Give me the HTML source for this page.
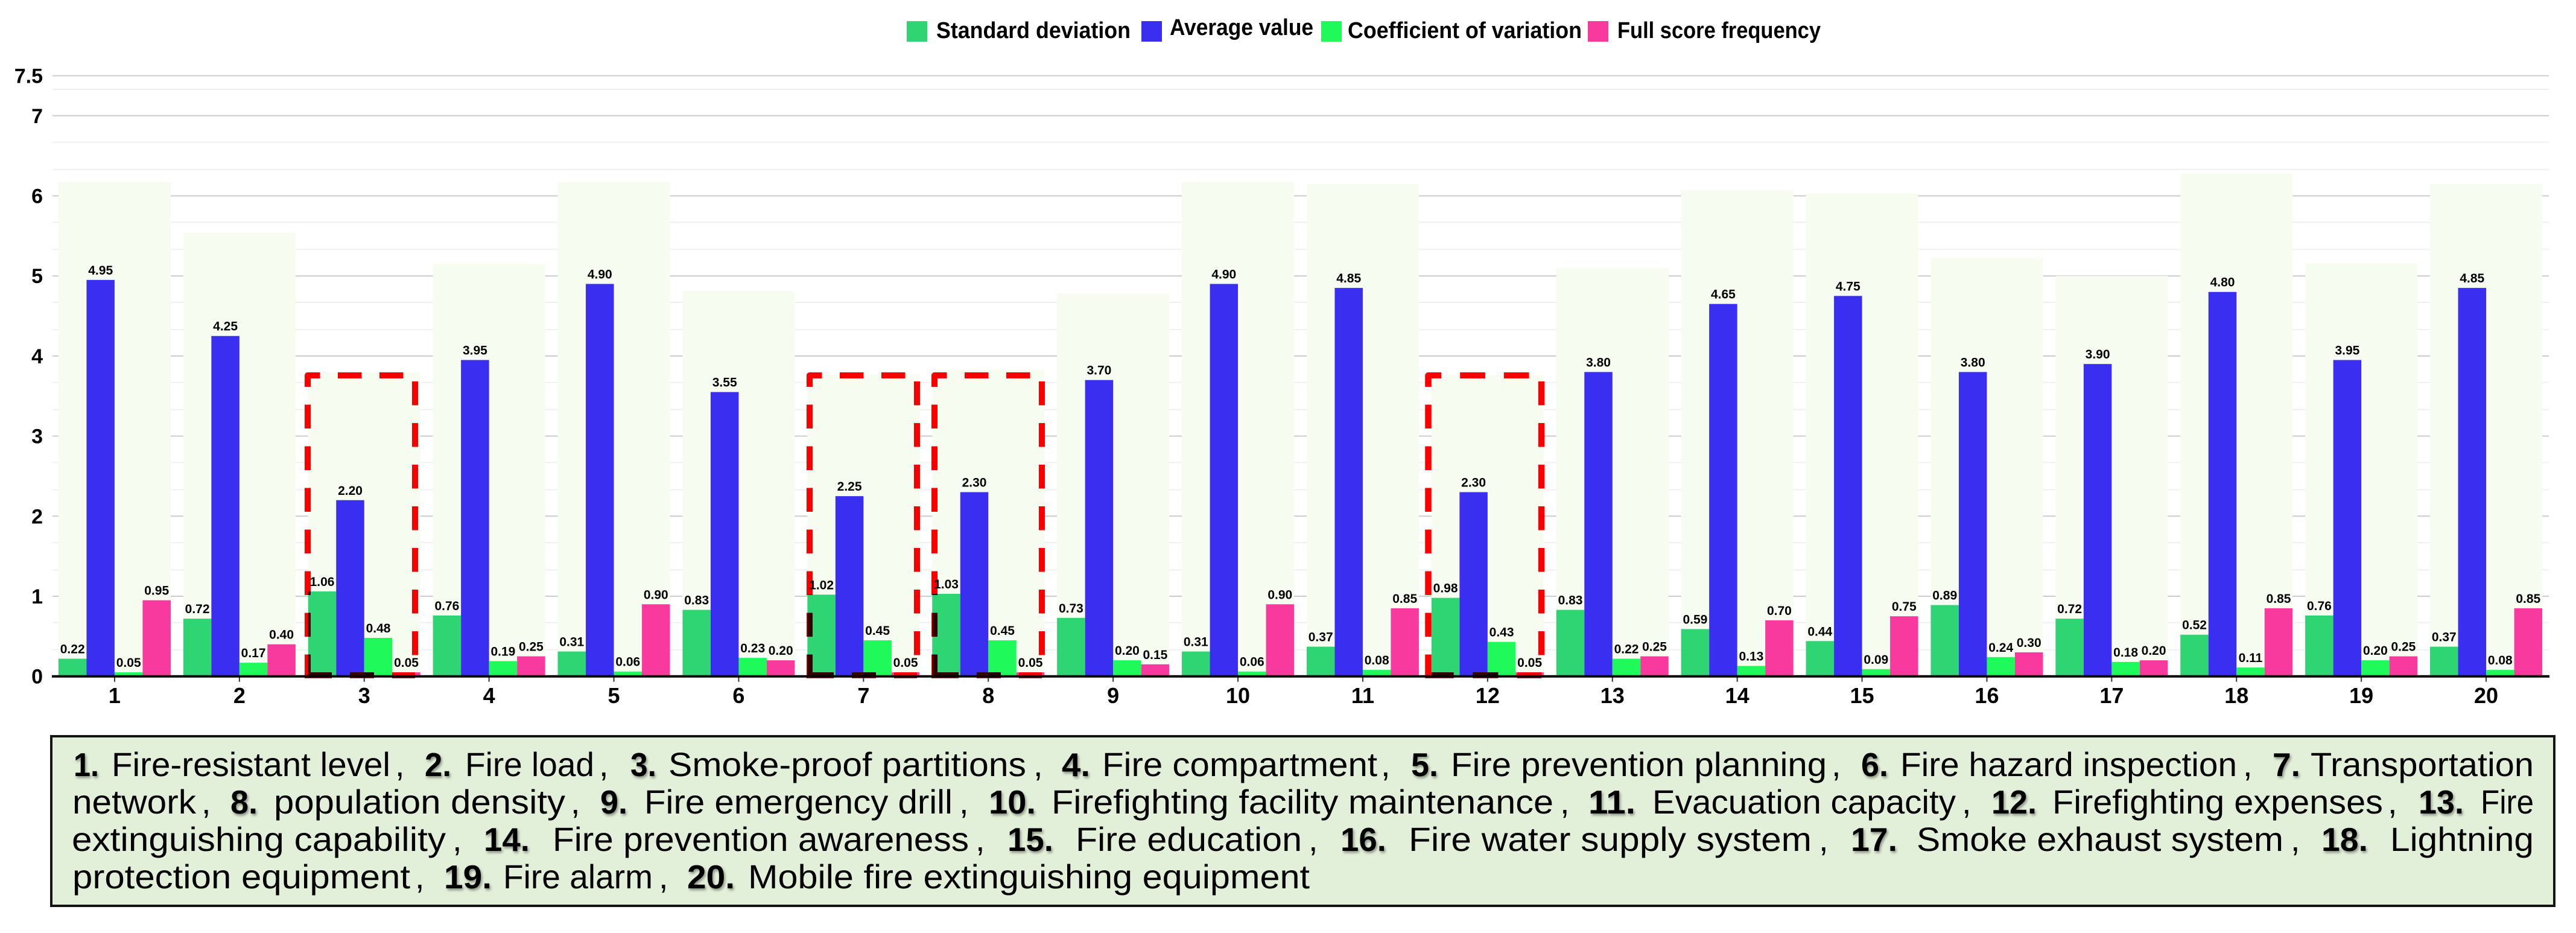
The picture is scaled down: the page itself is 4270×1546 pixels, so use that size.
<!DOCTYPE html>
<html lang="en">
<head>
<meta charset="utf-8">
<title>Fire safety factor statistics</title>
<style>
  html, body { margin: 0; padding: 0; background: #fff; }
  body { width: 4270px; height: 1546px; overflow: hidden; }
  svg { display: block; font-family: "Liberation Sans", "Noto Sans CJK SC", sans-serif; isolation: isolate; }
  .legend-text { font-size: 38px; font-weight: 700; fill: #000; }
  .num { font-size: 55px; font-weight: 700; fill: #000; filter: url(#num-shadow); }
  .lab { font-size: 56px; fill: #000; }
  .sep { font-size: 56px; fill: #000; }
  .hl { mix-blend-mode: multiply; fill: none; stroke: #ff0000; stroke-width: 10; stroke-linejoin: round; }
</style>
</head>
<body>
<svg id="chart" width="4270" height="1546" viewBox="0 0 4270 1546" xmlns="http://www.w3.org/2000/svg">
  <defs>
    <filter id="num-shadow" x="-20%" y="-20%" width="150%" height="150%">
      <feDropShadow dx="2" dy="3" stdDeviation="2" flood-color="#000" flood-opacity="0.4"/>
    </filter>
  </defs>

  <g id="grid"></g>
  <g id="marks"></g>

  <g id="highlights">
    <g class="hl" transform="translate(510,0)">
      <path d="M0,1124 V622 H178 V1114" stroke-dasharray="39.5 29.5"/>
      <path d="M0,1119 H178" stroke-dasharray="40 30"/>
    </g>
    <g class="hl" transform="translate(1342,0)">
      <path d="M0,1124 V622 H178 V1114" stroke-dasharray="39.5 29.5"/>
      <path d="M0,1119 H178" stroke-dasharray="40 30"/>
    </g>
    <g class="hl" transform="translate(1549,0)">
      <path d="M0,1124 V622 H178 V1114" stroke-dasharray="39.5 29.5"/>
      <path d="M0,1119 H178" stroke-dasharray="40 30"/>
    </g>
    <g class="hl" transform="translate(2367.5,0) scale(1.054,1)">
      <path d="M0,1124 V622 H178 V1114" stroke-dasharray="39.5 29.5"/>
      <path d="M0,1119 H178" stroke-dasharray="40 30"/>
    </g>
  </g>

  <g id="labels"></g>
  <g id="axes"></g>

  <g>
    <g>
      <rect x="1503" y="35" width="34" height="34" fill="#2fd473"/>
      <text class="legend-text" x="1552" y="63" textLength="322" lengthAdjust="spacingAndGlyphs">Standard deviation</text>
    </g>
    <g>
      <rect x="1892" y="35" width="34" height="34" fill="#3a2ff0"/>
      <text class="legend-text" x="1939" y="58" textLength="238" lengthAdjust="spacingAndGlyphs">Average value</text>
    </g>
    <g>
      <rect x="2190" y="35" width="34" height="34" fill="#1ffa5a"/>
      <text class="legend-text" x="2234" y="63" textLength="388" lengthAdjust="spacingAndGlyphs">Coefficient of variation</text>
    </g>
    <g>
      <rect x="2632" y="35" width="34" height="34" fill="#f83a9e"/>
      <text class="legend-text" x="2681" y="63" textLength="337" lengthAdjust="spacingAndGlyphs">Full score frequency</text>
    </g>
  </g>

  <g>
    <rect x="85" y="1220" width="4149" height="281" fill="#e3f0d9" stroke="#141414" stroke-width="4"/>

    <text class="num" x="122" y="1286" textLength="42" lengthAdjust="spacingAndGlyphs">1.</text>
    <text class="lab" x="185" y="1286" textLength="462" lengthAdjust="spacingAndGlyphs">Fire-resistant level</text>
    <text class="sep" x="655" y="1286">,</text>
    <text class="num" x="704" y="1286" textLength="44" lengthAdjust="spacingAndGlyphs">2.</text>
    <text class="lab" x="771" y="1286" textLength="214" lengthAdjust="spacingAndGlyphs">Fire load</text>
    <text class="sep" x="993" y="1286">,</text>
    <text class="num" x="1045" y="1286" textLength="43" lengthAdjust="spacingAndGlyphs">3.</text>
    <text class="lab" x="1108" y="1286" textLength="593" lengthAdjust="spacingAndGlyphs">Smoke-proof partitions</text>
    <text class="sep" x="1713" y="1286">,</text>
    <text class="num" x="1760" y="1286" textLength="47" lengthAdjust="spacingAndGlyphs">4.</text>
    <text class="lab" x="1827" y="1286" textLength="456" lengthAdjust="spacingAndGlyphs">Fire compartment</text>
    <text class="sep" x="2289" y="1286">,</text>
    <text class="num" x="2339" y="1286" textLength="45" lengthAdjust="spacingAndGlyphs">5.</text>
    <text class="lab" x="2405" y="1286" textLength="623" lengthAdjust="spacingAndGlyphs">Fire prevention planning</text>
    <text class="sep" x="3036" y="1286">,</text>
    <text class="num" x="3085" y="1286" textLength="45" lengthAdjust="spacingAndGlyphs">6.</text>
    <text class="lab" x="3150" y="1286" textLength="558" lengthAdjust="spacingAndGlyphs">Fire hazard inspection</text>
    <text class="sep" x="3718" y="1286">,</text>
    <text class="num" x="3767" y="1286" textLength="46" lengthAdjust="spacingAndGlyphs">7.</text>
    <text class="lab" x="3830" y="1286" textLength="370" lengthAdjust="spacingAndGlyphs">Transportation</text>

    <text class="lab" x="120" y="1348" textLength="205" lengthAdjust="spacingAndGlyphs">network</text>
    <text class="sep" x="334" y="1348">,</text>
    <text class="num" x="382" y="1348" textLength="45" lengthAdjust="spacingAndGlyphs">8.</text>
    <text class="lab" x="454" y="1348" textLength="483" lengthAdjust="spacingAndGlyphs">population density</text>
    <text class="sep" x="946" y="1348">,</text>
    <text class="num" x="995" y="1348" textLength="45" lengthAdjust="spacingAndGlyphs">9.</text>
    <text class="lab" x="1068" y="1348" textLength="511" lengthAdjust="spacingAndGlyphs">Fire emergency drill</text>
    <text class="sep" x="1590" y="1348">,</text>
    <text class="num" x="1639" y="1348" textLength="78" lengthAdjust="spacingAndGlyphs">10.</text>
    <text class="lab" x="1743" y="1348" textLength="832" lengthAdjust="spacingAndGlyphs">Firefighting facility maintenance</text>
    <text class="sep" x="2586" y="1348">,</text>
    <text class="num" x="2633" y="1348" textLength="78" lengthAdjust="spacingAndGlyphs">11.</text>
    <text class="lab" x="2739" y="1348" textLength="503" lengthAdjust="spacingAndGlyphs">Evacuation capacity</text>
    <text class="sep" x="3252" y="1348">,</text>
    <text class="num" x="3301" y="1348" textLength="75" lengthAdjust="spacingAndGlyphs">12.</text>
    <text class="lab" x="3402" y="1348" textLength="548" lengthAdjust="spacingAndGlyphs">Firefighting expenses</text>
    <text class="sep" x="3958" y="1348">,</text>
    <text class="num" x="4009" y="1348" textLength="75" lengthAdjust="spacingAndGlyphs">13.</text>
    <text class="lab" x="4112" y="1348" textLength="88" lengthAdjust="spacingAndGlyphs">Fire</text>

    <text class="lab" x="119" y="1410" textLength="620" lengthAdjust="spacingAndGlyphs">extinguishing capability</text>
    <text class="sep" x="750" y="1410">,</text>
    <text class="num" x="802" y="1410" textLength="76" lengthAdjust="spacingAndGlyphs">14.</text>
    <text class="lab" x="916" y="1410" textLength="690" lengthAdjust="spacingAndGlyphs">Fire prevention awareness</text>
    <text class="sep" x="1617" y="1410">,</text>
    <text class="num" x="1670" y="1410" textLength="76" lengthAdjust="spacingAndGlyphs">15.</text>
    <text class="lab" x="1783" y="1410" textLength="375" lengthAdjust="spacingAndGlyphs">Fire education</text>
    <text class="sep" x="2169" y="1410">,</text>
    <text class="num" x="2222" y="1410" textLength="76" lengthAdjust="spacingAndGlyphs">16.</text>
    <text class="lab" x="2335" y="1410" textLength="668" lengthAdjust="spacingAndGlyphs">Fire water supply system</text>
    <text class="sep" x="3015" y="1410">,</text>
    <text class="num" x="3068" y="1410" textLength="77" lengthAdjust="spacingAndGlyphs">17.</text>
    <text class="lab" x="3177" y="1410" textLength="608" lengthAdjust="spacingAndGlyphs">Smoke exhaust system</text>
    <text class="sep" x="3797" y="1410">,</text>
    <text class="num" x="3848" y="1410" textLength="77" lengthAdjust="spacingAndGlyphs">18.</text>
    <text class="lab" x="3962" y="1410" textLength="238" lengthAdjust="spacingAndGlyphs">Lightning</text>

    <text class="lab" x="120" y="1472" textLength="560" lengthAdjust="spacingAndGlyphs">protection equipment</text>
    <text class="sep" x="688" y="1472">,</text>
    <text class="num" x="736" y="1472" textLength="79" lengthAdjust="spacingAndGlyphs">19.</text>
    <text class="lab" x="834" y="1472" textLength="248" lengthAdjust="spacingAndGlyphs">Fire alarm</text>
    <text class="sep" x="1092" y="1472">,</text>
    <text class="num" x="1139" y="1472" textLength="79" lengthAdjust="spacingAndGlyphs">20.</text>
    <text class="lab" x="1240" y="1472" textLength="931" lengthAdjust="spacingAndGlyphs">Mobile fire extinguishing equipment</text>
  </g>
</svg>

<script>
const categories = ['1','2','3','4','5','6','7','8','9','10','11','12','13','14','15','16','17','18','19','20'];
const standardDeviation = [0.22,0.72,1.06,0.76,0.31,0.83,1.02,1.03,0.73,0.31,0.37,0.98,0.83,0.59,0.44,0.89,0.72,0.52,0.76,0.37];
const averageValue = [4.95,4.25,2.20,3.95,4.90,3.55,2.25,2.30,3.70,4.90,4.85,2.30,3.80,4.65,4.75,3.80,3.90,4.80,3.95,4.85];
const coefficientOfVariation = [0.05,0.17,0.48,0.19,0.06,0.23,0.45,0.45,0.20,0.06,0.08,0.43,0.22,0.13,0.09,0.24,0.18,0.11,0.20,0.08];
const fullScoreFrequency = [0.95,0.40,0.05,0.25,0.90,0.20,0.05,0.05,0.15,0.90,0.85,0.05,0.25,0.70,0.75,0.30,0.20,0.85,0.25,0.85];
const yMajorTicks = [0,1,2,3,4,5,6,7,7.5];
const yMinorTicks = [0.33,0.67,1.33,1.67,2.33,2.67,3.33,3.67,4.33,4.67,5.33,5.67,6.33,6.67,7.33];

const seriesList = [
  { key: 'standard-deviation', values: standardDeviation, color: '#2fd473' },
  { key: 'average-value', values: averageValue, color: '#3a2ff0' },
  { key: 'coefficient-of-variation', values: coefficientOfVariation, color: '#1ffa5a' },
  { key: 'full-score-frequency', values: fullScoreFrequency, color: '#f83a9e' }
];

const NS = 'http://www.w3.org/2000/svg';
const PLOT_LEFT = 86.5, BAND = 206.9, Y_ZERO = 1120.7, Y_UNIT = 132.7, BAR_W = 46.5;

function xBand(i) { return PLOT_LEFT + BAND * (i + 0.5); }
function yScale(v) { return Y_ZERO - v * Y_UNIT; }
function make(tag, attrs, parent) {
  const el = document.createElementNS(NS, tag);
  for (const k in attrs) el.setAttribute(k, attrs[k]);
  parent.appendChild(el);
  return el;
}

const gridG = document.getElementById('grid');
const marksG = document.getElementById('marks');
const labelsG = document.getElementById('labels');
const axesG = document.getElementById('axes');

yMinorTicks.forEach(function (t) {
  const y = yScale(t);
  const el = make('line', { x1: 87, x2: 4225, y1: y, y2: y, stroke: '#f0f0f0', 'stroke-width': 2 }, gridG);
  
  
});
yMajorTicks.forEach(function (t) {
  if (t === 0) return;
  const y = yScale(t);
  const el = make('line', { x1: 87, x2: 4225, y1: y, y2: y, stroke: '#cccccc', 'stroke-width': 2 }, gridG);
  
  
});

categories.forEach(function (c, i) {
  const groupLeft = xBand(i) - 2 * BAR_W;
  let total = 0;
  seriesList.forEach(function (s) { total += s.values[i]; });
  const bg = make('rect', {
    x: groupLeft, y: yScale(total), width: 4 * BAR_W, height: Y_ZERO - yScale(total), fill: '#f7fcf1'
  }, marksG);
  
  

  seriesList.forEach(function (s, j) {
    const v = s.values[i];
    const x = groupLeft + j * BAR_W;
    const bar = make('rect', {
      x: x, y: yScale(v), width: BAR_W, height: Y_ZERO - yScale(v), fill: s.color
    }, marksG);
    
    

    const label = make('text', {
      x: x + BAR_W / 2, y: yScale(v) - 9, 'text-anchor': 'middle',
      'font-size': 21, 'font-weight': 700, fill: '#000'
    }, labelsG);
    label.textContent = v.toFixed(2);
    
    
  });

  const tick = make('line', {
    x1: xBand(i), x2: xBand(i), y1: Y_ZERO, y2: Y_ZERO + 9, stroke: '#333', 'stroke-width': 2
  }, axesG);
  
  

  const xl = make('text', {
    x: xBand(i), y: 1165, 'text-anchor': 'middle', 'font-size': 36, 'font-weight': 700, fill: '#000'
  }, axesG);
  xl.textContent = c;
  
  
});

const axisLine = make('line', {
  x1: 86, x2: 4226, y1: Y_ZERO, y2: Y_ZERO, stroke: '#000', 'stroke-width': 4
}, axesG);



yMajorTicks.forEach(function (t) {
  const yl = make('text', {
    x: 71, y: yScale(t) + 12, 'text-anchor': 'end', 'font-size': 34, 'font-weight': 700, fill: '#000'
  }, axesG);
  yl.textContent = String(t);
  
  
});
</script>
</body>
</html>
